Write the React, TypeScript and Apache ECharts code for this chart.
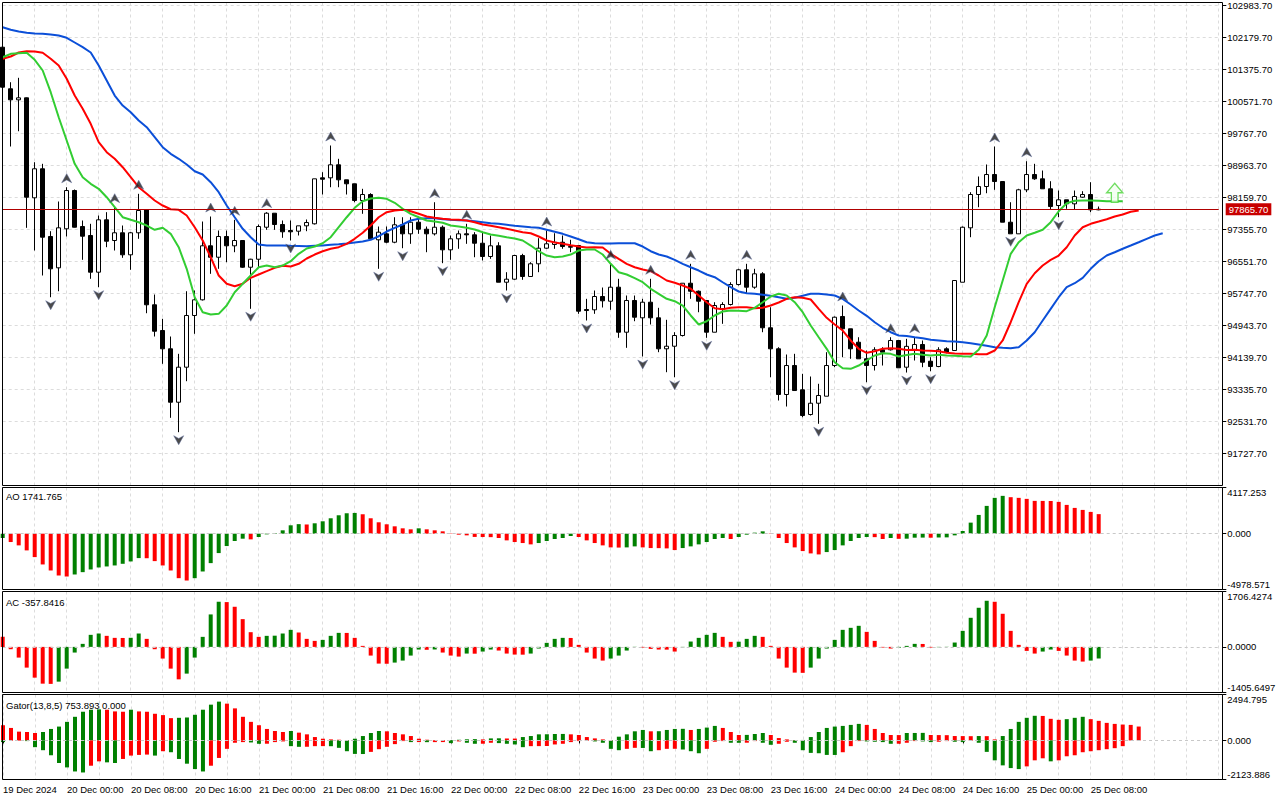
import React, { useEffect, useRef } from "react";
import * as echarts from "echarts";

const FONT = "'Liberation Sans', Arial, sans-serif";
const GREEN = "#008000";
const RED = "#ff0000";

// ---- candles (19 Dec 2024 16:00 ... 25 Dec 2024 09:00, H1) ----
const opens = [101936,100891,100614,100664,98152,98881,97180,96393,97373,98335,97431,97205,96283,97599,97079,97273,96720,97273,97850,95464,94818,94358,93016,93896,95195,95589,96946,96659,97180,96946,97079,96408,96609,97413,97765,97481,97330,97313,97448,97499,98654,98654,98981,98604,98504,98084,98235,97097,97247,97036,97474,97247,97539,97363,97247,97413,96845,97122,97247,97222,97011,96677,96946,96031,96107,96702,96175,96494,96886,96979,97036,96928,96953,95345,95338,95672,95554,95906,94775,95572,95137,95529,95137,94358,94423,94692,96006,95805,95572,94775,95363,95471,95973,96343,95906,96242,94886,94358,93210,93938,93328,92707,92991,93167,93938,95170,94861,94524,94107,93938,94333,94333,94567,93896,94315,94466,94046,93913,94358,94315,96031,97398,98235,98436,98737,98561,97539,97247,98353,98737,98629,98378,97958,98102,98001,98167,98235,97850];
const highs = [101978,101056,101167,100672,99046,99006,97313,98059,98418,98360,97582,97499,97707,97791,97916,97456,97290,98252,97858,95722,95112,94667,94232,95805,95823,97556,97682,97330,97330,97599,97079,96620,97481,97791,97765,97582,97582,97448,97607,98629,98795,99466,99132,98604,98504,98378,98267,97431,97431,97664,97664,97664,97639,97431,98041,97456,97205,97330,97499,97288,97288,97205,97036,96283,96720,96745,96534,97137,97330,97262,97205,97097,96953,95614,95823,95898,96494,96117,95697,95697,95614,96117,95388,95087,94775,96006,96494,95823,95572,95529,95529,96031,96368,96494,96368,96283,95403,94398,94215,94232,93730,93662,93479,94273,95170,95446,94861,94649,94315,94398,94398,94649,94567,94609,94649,94567,94147,94398,94398,96074,97431,98293,98687,98989,99441,98561,98041,98378,99071,99006,98838,98569,98335,98102,98335,98318,98544,97933];
const lows = [100923,99441,99825,97398,96828,96200,95654,95805,97180,97406,96594,96117,95906,96911,96828,96644,96343,97122,95252,94667,93981,92624,92263,93544,94735,95572,96242,96368,96534,96785,96393,95363,96408,97348,97348,97147,97079,97205,97313,97481,98235,98418,98418,98235,98041,97750,97097,96368,97011,97011,96886,96996,97247,96785,97205,96509,96594,96871,96996,96659,96577,96619,96031,95823,96092,96092,96175,96283,96871,96871,96871,96785,95237,95069,95237,95396,95338,94634,94383,95051,94165,94969,94273,93770,93644,94667,95614,95277,94634,94775,94986,95446,95948,95755,95866,94775,93644,93059,92908,93310,92639,92682,92474,93167,93896,94147,94107,94107,93519,93813,93938,94315,93881,93762,94064,93896,93795,93896,94247,94315,96031,97162,97916,98267,98353,97539,97247,97247,98293,98604,98378,97850,97664,97876,97850,98152,97791,97840];
const closes = [100931,100614,100664,98167,98881,97162,96368,97398,98335,97413,97187,96283,97599,97061,97273,96720,97273,97833,95464,94800,94358,93016,93896,95195,95589,96946,96659,97180,96946,97079,96408,96609,97431,97765,97481,97298,97298,97448,97531,98629,98619,98981,98604,98504,98084,98235,97122,97288,97036,97474,97247,97539,97363,97247,97413,96845,97122,97247,97222,97011,96677,96946,96031,96107,96702,96175,96494,96886,96996,97036,96928,96911,95303,95320,95672,95564,95906,94775,95572,95152,95529,95137,94358,94423,94692,96006,95805,95554,94775,95446,95471,95973,96343,95906,96242,94886,94358,93210,93938,93310,92682,92991,93185,93938,95152,94861,94358,94107,93938,94333,94273,94567,93881,94420,94466,94021,93913,94333,94273,96074,97413,98235,98436,98737,98561,97539,97247,98353,98737,98629,98378,97933,98102,98001,98185,98235,97850,97865.7];

// ---- Alligator (already shifted forward: jaw 8, teeth 5, lips 3) ----
const jaw = [102438,102373,102330,102298,102280,102272,102255,102230,102172,102054,101936,101803,101476,101099,100722,100471,100303,100094,99926,99674,99423,99257,99132,98989,98820,98737,98544,98293,97958,97664,97373,97162,96979,96953,96953,96953,96946,96941,96936,96946,96953,96971,96986,97004,97029,97054,97097,97187,97305,97398,97481,97582,97624,97639,97639,97614,97599,97589,97582,97564,97539,97514,97499,97474,97448,97431,97413,97398,97348,97298,97247,97180,97112,97036,97011,97004,97004,97011,97011,97011,96928,96810,96727,96677,96594,96494,96408,96325,96225,96157,96031,95906,95798,95755,95740,95715,95690,95654,95614,95639,95690,95740,95740,95722,95697,95614,95471,95320,95187,95026,94886,94775,94692,94680,94649,94624,94584,94567,94549,94541,94524,94499,94466,94433,94398,94383,94373,94398,94567,94775,95069,95363,95654,95906,96006,96142,96368,96559,96702,96785,96871,96953,97036,97122,97205,97262];
const teeth = [101644,101702,101803,101835,101828,101795,101644,101476,101142,100722,100388,100011,99549,99298,99132,98921,98669,98418,98252,98084,97958,97865,97850,97707,97413,97079,96659,96200,95991,95931,95991,96142,96225,96308,96393,96443,96426,96494,96627,96727,96810,96871,96911,96996,97122,97273,97456,97664,97791,97833,97850,97815,97750,97682,97649,97624,97607,97599,97582,97539,97481,97448,97413,97373,97330,97288,97262,97180,97079,97029,96996,96961,96928,96903,96911,96903,96745,96619,96494,96408,96350,96308,96200,96074,96016,95948,95866,95697,95529,95378,95353,95388,95403,95403,95378,95388,95446,95521,95614,95654,95639,95597,95363,95137,94969,94818,94567,94358,94258,94298,94358,94373,94358,94328,94333,94315,94308,94298,94258,94240,94232,94232,94222,94222,94315,94567,95026,95529,95991,96257,96451,96594,96702,96911,97205,97413,97499,97556,97614,97682,97732,97800,97833];
const lips = [101684,101770,101785,101795,101619,101350,100805,100177,99592,99006,98669,98504,98378,98167,97916,97664,97599,97539,97456,97348,97398,97247,96911,96368,95654,95277,95220,95237,95446,95780,95991,96200,96408,96451,96408,96451,96559,96745,96878,96928,97011,97162,97413,97664,97901,98066,98134,98152,98127,98026,97876,97750,97664,97582,97556,97524,97456,97431,97398,97355,97288,97230,97197,97162,97129,97079,96953,96810,96702,96659,96677,96727,96828,96853,96853,96727,96494,96283,96225,96132,96031,95866,95740,95614,95554,95446,95195,94969,95051,95195,95295,95320,95313,95303,95388,95529,95672,95740,95697,95529,95277,94943,94649,94358,94021,93871,93855,93938,94064,94190,94247,94232,94165,94202,94232,94207,94190,94207,94190,94182,94172,94165,94333,94692,95403,96074,96745,97036,97205,97273,97348,97539,97815,98016,98077,98084,98084,98077,98066,98066,98066];

// ---- Bill Williams fractals (bar indices) ----
const fractalUp = [8,14,17,26,29,33,41,54,58,68,76,81,86,93,105,111,114,124,128];
const fractalDown = [6,12,22,31,36,47,50,55,63,73,80,84,88,102,108,113,116,126,132];

// ---- signal arrow & price line ----
const signalIndex = 139;
const signalPrice = 98280;
const lastPrice = 97865.7;

// ---- Awesome Oscillator ----
const ao = [-388,-746,-1044,-1492,-2089,-2745,-3282,-3730,-3820,-3640,-3432,-3193,-3014,-2924,-2835,-2686,-2477,-2178,-2190,-2447,-2835,-3282,-3969,-4178,-3969,-3372,-2626,-1731,-1104,-656,-448,-507,-298,-60,60,298,746,850,820,925,1104,1373,1641,1820,1850,1731,1373,1015,836,656,477,388,477,388,298,209,30,-90,-150,-290,-300,-310,-388,-597,-746,-836,-955,-836,-656,-477,-388,-209,-298,-597,-836,-1044,-1223,-1240,-1223,-1134,-1223,-1283,-1290,-1313,-1462,-1283,-1134,-955,-746,-477,-388,-477,-298,-90,90,209,-30,-388,-836,-1223,-1552,-1760,-1850,-1641,-1462,-1044,-656,-388,-298,-310,-477,-388,-460,-447,-358,-350,-360,-340,-330,-150,239,985,1671,2477,3193,3372,3253,3193,3103,2924,2920,2915,2835,2566,2298,2119,1940,1741.765];

// ---- Accelerator Oscillator ----
const ac = [309,-72,-330,-639,-948,-1133,-1140,-1071,-670,-175,93,371,412,340,278,275,280,412,247,-72,-360,-670,-1000,-824,-330,309,1000,1391,1380,1236,855,453,309,340,345,412,525,443,247,185,216,340,432,430,278,31,-268,-515,-520,-484,-422,-268,-82,-90,-80,-175,-268,-299,-206,-210,-144,-82,-113,-206,-237,-240,-206,-51,124,247,278,275,62,-175,-360,-422,-360,-268,-113,5,-20,-62,-82,-85,-144,-10,165,278,371,432,309,155,160,247,340,309,31,-360,-639,-793,-800,-639,-360,-51,216,525,587,649,463,185,-20,-51,-31,31,93,90,-20,-10,5,134,494,896,1205,1421,1390,1020,494,62,-124,-206,-144,-82,-124,-268,-422,-453,-422,-357.8416];

// ---- Gator Oscillator ----
const gatorUp = [825,678,477,458,403,458,623,752,1008,1283,1558,1668,1686,1668,1576,1558,1668,1576,1558,1448,1375,1210,1228,1246,1393,1668,1943,2108,1998,1741,1283,1008,825,623,513,458,513,422,330,183,92,55,37,18,92,238,403,513,495,403,330,238,92,37,18,15,20,35,60,70,55,110,115,105,100,183,238,330,335,348,352,330,293,183,110,55,20,202,330,495,568,495,500,568,623,630,568,623,697,788,678,458,293,300,348,403,293,128,55,18,25,183,458,678,752,788,843,898,843,623,403,293,290,403,405,410,293,290,285,238,235,230,238,232,55,238,623,1008,1228,1338,1330,1173,1118,1155,1228,1283,1155,1063,953,898,862,843,754];
const gatorDown = [-92,-18,-15,-37,-367,-532,-807,-1228,-1467,-1687,-1742,-1375,-1137,-1192,-1228,-1008,-825,-788,-770,-825,-587,-642,-1008,-1265,-1558,-1687,-1375,-953,-458,-128,-92,-110,-183,-180,-92,-55,-312,-348,-345,-312,-310,-315,-403,-587,-733,-740,-623,-477,-348,-202,-37,-92,-90,-95,-92,-90,-147,-55,-128,-183,-180,-128,-147,-183,-220,-367,-312,-310,-305,-220,-183,-92,-37,-20,-55,-128,-458,-532,-458,-403,-410,-587,-532,-458,-455,-495,-587,-697,-458,-73,-37,-128,-130,-125,-37,-128,-238,-183,-73,-128,-532,-678,-697,-788,-790,-642,-312,-37,-55,-73,-92,-183,-180,-128,-37,-55,-92,-73,-37,-73,-92,-18,-128,-623,-1082,-1356,-1503,-1558,-1411,-1082,-972,-1137,-1082,-862,-807,-642,-587,-532,-477,-422,-312];

// ---- axes ----
const timeLabels = ["19 Dec 2024","20 Dec 00:00","20 Dec 08:00","20 Dec 16:00","21 Dec 00:00","21 Dec 08:00","21 Dec 16:00","22 Dec 00:00","22 Dec 08:00","22 Dec 16:00","23 Dec 00:00","23 Dec 08:00","23 Dec 16:00","24 Dec 00:00","24 Dec 08:00","24 Dec 16:00","25 Dec 00:00","25 Dec 08:00"];
const SLOTS = 153;
const priceMin = 90923.7;
const priceMax = 103059.1;
const priceStep = 804;
const aoRange = [-4978.571, 4117.253];
const acRange = [-1405.6497, 1706.4274];
const gatorRange = [-2123.886, 2494.795];

const categories = Array.from({ length: SLOTS }, (_, i) => String(i));

function trendColors(vals: number[], first: string, useAbs = false) {
  return vals.map((v, i) => {
    if (i === 0) return first;
    const a = useAbs ? Math.abs(v) : v;
    const b = useAbs ? Math.abs(vals[i - 1]) : vals[i - 1];
    return a > b ? GREEN : RED;
  });
}

const GRID_LEFT = 2.7;
const GRID_W = 1216;
const panes = [
  { top: 2.5, height: 483 },
  { top: 487.5, height: 102 },
  { top: 591.5, height: 101 },
  { top: 694.5, height: 85 },
];

const labelStyle = { color: "#000", fontSize: 9.5, fontFamily: FONT };
const gridLine = { color: "#dcdcdc", type: [3, 3] as number[], width: 1 };

function buildOption() {
  const xAxes = panes.map((_, g) => ({
    type: "category",
    gridIndex: g,
    data: categories,
    boundaryGap: false,
    axisLine: { show: false },
    axisTick: {
      show: g === 3,
      interval: (i: number) => i % 8 === 0 && i <= 136,
      length: 3,
      lineStyle: { color: "#000" },
    },
    axisLabel: {
      show: g === 3,
      interval: (i: number) => i % 8 === 0 && i <= 136,
      formatter: (_v: string, idx: number) => timeLabels[Math.round(idx / 8)] ?? "",
      align: "left",
      margin: 5,
      ...labelStyle,
    },
    splitLine: { show: true, interval: 3, lineStyle: gridLine },
  }));

  const subAxis = (g: number, range: number[], digits: number) => ({
    type: "value",
    gridIndex: g,
    position: "right",
    offset: 3.6,
    min: range[0],
    max: range[1],
    axisLine: { show: false },
    axisTick: { show: true, length: 4, customValues: [range[0], 0, range[1]], lineStyle: { color: "#000" } },
    axisLabel: {
      customValues: [range[0], 0, range[1]],
      formatter: (v: number) => v.toFixed(digits),
      margin: 5,
      verticalAlignMaxLabel: "top",
      verticalAlignMinLabel: "bottom",
      ...labelStyle,
    },
    splitLine: { show: false },
  });

  const yAxes = [
    {
      type: "value",
      gridIndex: 0,
      position: "right",
      offset: 3.6,
      min: priceMin,
      max: priceMax,
      interval: priceStep,
      axisLine: { show: false },
      axisTick: { show: true, length: 4, lineStyle: { color: "#000" } },
      axisLabel: {
        formatter: (v: number) => v.toFixed(2),
        showMinLabel: false,
        showMaxLabel: false,
        margin: 5,
        ...labelStyle,
      },
      splitLine: { show: true, lineStyle: gridLine },
    },
    subAxis(1, aoRange, 3),
    subAxis(2, acRange, 4),
    subAxis(3, gatorRange, 3),
  ];

  const zeroLine = {
    silent: true,
    symbol: ["none", "none"],
    label: { show: false },
    lineStyle: { color: "#c8c8c8", type: [3, 3], width: 1 },
    data: [{ yAxis: 0 }],
  };

  const aoColors = trendColors(ao, GREEN);
  const acColors = trendColors(ac, RED);
  const guColors = trendColors(gatorUp, RED, true);
  const gdColors = trendColors(gatorDown, GREEN, true);

  const series: any[] = [
    {
      type: "candlestick",
      xAxisIndex: 0,
      yAxisIndex: 0,
      barWidth: 5,
      z: 2,
      data: opens.map((o, i) => [o, closes[i], lows[i], highs[i]]),
      itemStyle: { color: "#ffffff", color0: "#000000", borderColor: "#000000", borderColor0: "#000000", borderWidth: 1 },
      markLine: {
        silent: true,
        symbol: ["none", "none"],
        lineStyle: { color: "#b00000", width: 1, type: "solid" },
        label: {
          show: true,
          position: "end",
          distance: 7,
          formatter: lastPrice.toFixed(2),
          color: "#fff",
          backgroundColor: "#c80000",
          padding: [1, 3, 1, 3],
          fontSize: 9.5,
          fontFamily: FONT,
        },
        data: [{ yAxis: lastPrice }],
      },
    },
    { type: "line", name: "Jaw", xAxisIndex: 0, yAxisIndex: 0, data: jaw, symbol: "none", z: 3, lineStyle: { color: "#0b4fd8", width: 2 } },
    { type: "line", name: "Teeth", xAxisIndex: 0, yAxisIndex: 0, data: teeth, symbol: "none", z: 3, lineStyle: { color: "#ff0000", width: 2 } },
    { type: "line", name: "Lips", xAxisIndex: 0, yAxisIndex: 0, data: lips, symbol: "none", z: 3, lineStyle: { color: "#32cd32", width: 2 } },
    {
      type: "scatter",
      xAxisIndex: 0,
      yAxisIndex: 0,
      z: 4,
      symbol: "path://M5,0L10,10L5,7L0,10Z",
      symbolSize: [10, 9],
      symbolOffset: [0, -9],
      itemStyle: { color: "#1e1e1e", borderColor: "#5a6a9a", borderWidth: 0.6 },
      data: fractalUp.map((i) => [i, highs[i]]),
    },
    {
      type: "scatter",
      xAxisIndex: 0,
      yAxisIndex: 0,
      z: 4,
      symbol: "path://M0,0L5,3L10,0L5,10Z",
      symbolSize: [10, 9],
      symbolOffset: [0, 8],
      itemStyle: { color: "#1e1e1e", borderColor: "#5a6a9a", borderWidth: 0.6 },
      data: fractalDown.map((i) => [i, lows[i]]),
    },
    {
      type: "scatter",
      xAxisIndex: 0,
      yAxisIndex: 0,
      z: 5,
      symbol: "path://M6,0L12,7L8.5,7L8.5,14L3.5,14L3.5,7L0,7Z",
      symbolSize: [16, 19],
      itemStyle: { color: "#f2fff0", borderColor: "#4cd43a", borderWidth: 1.4 },
      data: [[signalIndex, signalPrice]],
    },
    {
      type: "bar",
      xAxisIndex: 1,
      yAxisIndex: 1,
      barWidth: 4,
      data: ao.map((v, i) => ({ value: v, itemStyle: { color: aoColors[i] } })),
      markLine: zeroLine,
    },
    {
      type: "bar",
      xAxisIndex: 2,
      yAxisIndex: 2,
      barWidth: 4,
      data: ac.map((v, i) => ({ value: v, itemStyle: { color: acColors[i] } })),
      markLine: zeroLine,
    },
    {
      type: "bar",
      xAxisIndex: 3,
      yAxisIndex: 3,
      barWidth: 4,
      barGap: "-100%",
      data: gatorUp.map((v, i) => ({ value: v, itemStyle: { color: guColors[i] } })),
      markLine: zeroLine,
    },
    {
      type: "bar",
      xAxisIndex: 3,
      yAxisIndex: 3,
      barWidth: 4,
      barGap: "-100%",
      data: gatorDown.map((v, i) => ({ value: v, itemStyle: { color: gdColors[i] } })),
    },
  ];

  const frames = panes.map((p) => ({
    type: "rect",
    silent: true,
    z: 100,
    shape: { x: 2.5, y: p.top, width: 1220, height: p.height },
    style: { fill: "none", stroke: "#000", lineWidth: 1 },
  }));
  const titles = [
    { text: "AO 1741.765", y: 496.5 },
    { text: "AC -357.8416", y: 602.5 },
    { text: "Gator(13,8,5) 753.893 0.000", y: 705 },
  ].map((t) => ({
    type: "text",
    silent: true,
    z: 101,
    x: 6,
    y: t.y,
    style: { text: t.text, fill: "#000", fontSize: 9.5, fontFamily: FONT, textVerticalAlign: "middle", verticalAlign: "middle" },
  }));

  return {
    animation: false,
    backgroundColor: "#ffffff",
    grid: panes.map((p) => ({ left: GRID_LEFT, top: p.top, width: GRID_W, height: p.height })),
    xAxis: xAxes,
    yAxis: yAxes,
    series,
    graphic: [...frames, ...titles],
  };
}

export default function App() {
  const ref = useRef<HTMLDivElement>(null);
  useEffect(() => {
    if (!ref.current) return;
    const chart = echarts.init(ref.current, null, { renderer: "svg" });
    chart.setOption(buildOption() as any);
    return () => chart.dispose();
  }, []);
  return (
    <div
      ref={ref}
      style={{ position: "fixed", left: 0, top: 0, width: 1280, height: 800, background: "#fff" }}
    />
  );
}
